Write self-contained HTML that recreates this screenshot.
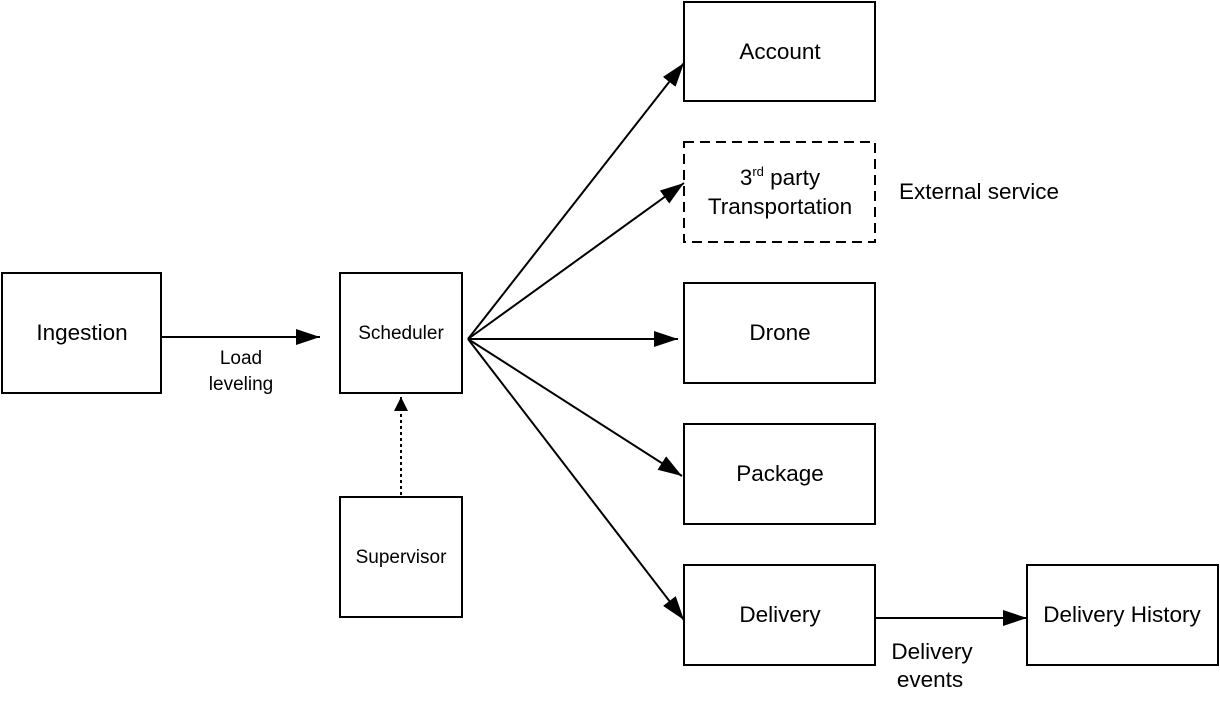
<!DOCTYPE html>
<html><head><style>body{margin:0;background:#fff}svg{display:block}text{font-family:"Liberation Sans",sans-serif;fill:#000}</style></head>
<body>
<svg width="1220" height="706" viewBox="0 0 1220 706" xmlns="http://www.w3.org/2000/svg">
<defs><marker id="a" markerWidth="24" markerHeight="16" refX="24" refY="8" orient="auto" markerUnits="userSpaceOnUse"><path d="M0,0 L24,8 L0,16 z" fill="#000"/></marker>
<marker id="b" markerWidth="14" markerHeight="18" refX="14" refY="9" orient="auto" markerUnits="userSpaceOnUse"><path d="M0,2 L14,9 L0,16 z" fill="#000"/></marker></defs>
<g fill="none" stroke="#000" stroke-width="2">
<rect x="2" y="273" width="159" height="120"/>
<rect x="340" y="273" width="122" height="120"/>
<rect x="340" y="497" width="122" height="120"/>
<rect x="684" y="2" width="191" height="99"/>
<rect x="684" y="142" width="191" height="100" stroke-dasharray="10,6"/>
<rect x="684" y="283" width="191" height="100"/>
<rect x="684" y="424" width="191" height="100"/>
<rect x="684" y="565" width="191" height="100"/>
<rect x="1027" y="565" width="191" height="100"/>
<line x1="162" y1="337" x2="320" y2="337" marker-end="url(#a)"/>
<line x1="401" y1="495" x2="401" y2="397" stroke-dasharray="3,3" marker-end="url(#b)"/>
<line x1="468" y1="339" x2="684" y2="63" marker-end="url(#a)"/>
<line x1="468" y1="339" x2="684" y2="183" marker-end="url(#a)"/>
<line x1="468" y1="339" x2="678" y2="339" marker-end="url(#a)"/>
<line x1="468" y1="339" x2="682" y2="476" marker-end="url(#a)"/>
<line x1="468" y1="339" x2="684" y2="620" marker-end="url(#a)"/>
<line x1="876" y1="618" x2="1027" y2="618" marker-end="url(#a)"/>
</g>
<g font-size="22.5" text-anchor="middle">
<text x="82" y="340">Ingestion</text>
<text x="780" y="59">Account</text>
<text x="780" y="185">3<tspan font-size="13" dy="-9">rd</tspan><tspan dy="9"> party</tspan></text>
<text x="780" y="214">Transportation</text>
<text x="780" y="340">Drone</text>
<text x="780" y="481">Package</text>
<text x="780" y="622">Delivery</text>
<text x="1122" y="622">Delivery History</text>
<text x="979" y="199">External service</text>
<text x="932" y="659">Delivery</text>
<text x="930" y="687">events</text>
</g>
<g font-size="19" text-anchor="middle">
<text x="401" y="339">Scheduler</text>
<text x="401" y="563">Supervisor</text>
<text x="241" y="364">Load</text>
<text x="241" y="390">leveling</text>
</g>
</svg>
</body></html>
